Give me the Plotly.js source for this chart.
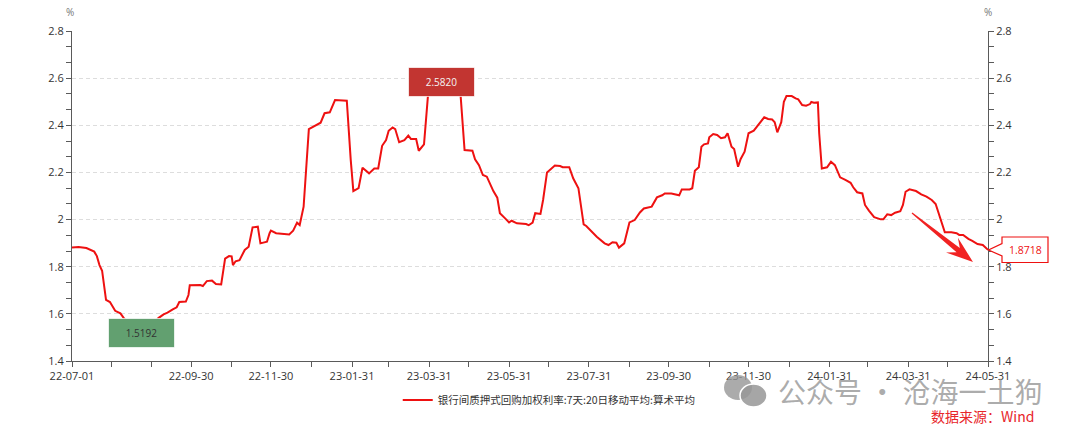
<!DOCTYPE html>
<html>
<head>
<meta charset="utf-8">
<script src="https://cdn.plot.ly/plotly-3.0.1.min.js"></script>
<style>html,body{margin:0;padding:0;background:#fff;}#chart{width:1080px;height:436px;}</style>
</head>
<body>
<div id="chart"></div>
<script>
// ---- data ----
const seriesName = '银行间质押式回购加权利率:7天:20日移动平均:算术平均';
const dates = [
'2022-07-01','2022-07-06','2022-07-12','2022-07-15','2022-07-18','2022-07-20','2022-07-22','2022-07-24','2022-07-27','2022-07-30',
'2022-08-03','2022-08-07','2022-08-10','2022-08-15','2022-08-19','2022-08-23','2022-08-27','2022-08-31','2022-09-03','2022-09-05',
'2022-09-09','2022-09-12','2022-09-16','2022-09-19','2022-09-21','2022-09-26','2022-09-28','2022-09-29','2022-10-07','2022-10-09',
'2022-10-12','2022-10-16','2022-10-19','2022-10-23','2022-10-26','2022-10-29','2022-10-31','2022-11-01','2022-11-03','2022-11-06',
'2022-11-10','2022-11-13','2022-11-16','2022-11-20','2022-11-22','2022-11-27','2022-11-29','2022-11-30','2022-12-04','2022-12-14',
'2022-12-17','2022-12-20','2022-12-22','2022-12-25','2022-12-29','2023-01-02','2023-01-07','2023-01-10','2023-01-14','2023-01-18',
'2023-01-27','2023-01-30','2023-02-01','2023-02-05','2023-02-08','2023-02-13','2023-02-17','2023-02-20','2023-02-23','2023-02-26',
'2023-02-28','2023-03-03','2023-03-05','2023-03-08','2023-03-12','2023-03-15','2023-03-17','2023-03-21','2023-03-23','2023-03-27',
'2023-03-30','2023-04-03','2023-04-09','2023-04-15','2023-04-20','2023-04-24','2023-04-27','2023-05-03','2023-05-05','2023-05-08',
'2023-05-11','2023-05-14','2023-05-19','2023-05-22','2023-05-24','2023-05-28','2023-05-31','2023-06-02','2023-06-06','2023-06-13',
'2023-06-15','2023-06-18','2023-06-20','2023-06-24','2023-06-26','2023-06-29','2023-07-02','2023-07-05','2023-07-09','2023-07-11',
'2023-07-16','2023-07-19','2023-07-23','2023-07-27','2023-07-29','2023-08-04','2023-08-06','2023-08-12','2023-08-15','2023-08-18',
'2023-08-21','2023-08-23','2023-08-27','2023-08-31','2023-09-04','2023-09-08','2023-09-11','2023-09-17','2023-09-21','2023-09-25',
'2023-09-27','2023-10-02','2023-10-08','2023-10-10','2023-10-16','2023-10-18','2023-10-20','2023-10-23','2023-10-25','2023-10-27',
'2023-10-30','2023-10-31','2023-11-03','2023-11-06','2023-11-09','2023-11-12','2023-11-14','2023-11-17','2023-11-19','2023-11-22',
'2023-11-24','2023-11-27','2023-11-30','2023-12-04','2023-12-08','2023-12-12','2023-12-15','2023-12-18','2023-12-20','2023-12-22',
'2023-12-25','2023-12-27','2023-12-29','2024-01-02','2024-01-05','2024-01-07','2024-01-10','2024-01-13','2024-01-16','2024-01-17',
'2024-01-19','2024-01-22','2024-01-23','2024-01-25','2024-01-29','2024-02-01','2024-02-04','2024-02-08','2024-02-12','2024-02-16',
'2024-02-18','2024-02-21','2024-02-25','2024-02-27','2024-03-01','2024-03-05','2024-03-10','2024-03-12','2024-03-15','2024-03-18',
'2024-03-21','2024-03-25','2024-03-27','2024-03-29','2024-04-01','2024-04-06','2024-04-10','2024-04-14','2024-04-18','2024-04-21',
'2024-04-28','2024-05-03','2024-05-07','2024-05-09','2024-05-12','2024-05-16','2024-05-19','2024-05-23','2024-05-27','2024-05-31'
];
const rates = [
1.881,1.884,1.879,1.871,1.864,1.845,1.807,1.783,1.659,1.650,
1.613,1.602,1.579,1.552,1.532,1.5192,1.528,1.548,1.568,1.582,
1.598,1.605,1.619,1.628,1.650,1.652,1.680,1.721,1.722,1.718,
1.739,1.741,1.727,1.725,1.834,1.845,1.844,1.807,1.823,1.828,
1.871,1.885,1.967,1.970,1.899,1.906,1.942,1.953,1.942,1.937,
1.953,1.987,1.977,2.055,2.384,2.397,2.411,2.451,2.455,2.507,
2.504,2.253,2.121,2.133,2.220,2.196,2.217,2.217,2.313,2.337,
2.377,2.391,2.384,2.328,2.337,2.356,2.342,2.342,2.292,2.319,
2.524,2.570,2.582,2.575,2.555,2.524,2.295,2.292,2.256,2.231,
2.189,2.182,2.121,2.093,2.027,2.005,1.988,1.995,1.984,1.981,
1.976,1.987,2.027,2.024,2.083,2.200,2.213,2.229,2.227,2.222,
2.222,2.175,2.133,1.980,1.973,1.935,1.927,1.899,1.892,1.904,
1.902,1.881,1.899,1.988,1.998,2.030,2.047,2.055,2.094,2.103,
2.111,2.111,2.103,2.128,2.128,2.133,2.207,2.222,2.309,2.319,
2.323,2.349,2.363,2.359,2.345,2.349,2.366,2.309,2.299,2.224,
2.257,2.288,2.366,2.377,2.408,2.434,2.427,2.425,2.413,2.370,
2.413,2.500,2.524,2.524,2.514,2.510,2.486,2.483,2.490,2.499,
2.496,2.497,2.366,2.217,2.222,2.245,2.231,2.179,2.168,2.156,
2.137,2.116,2.111,2.062,2.038,2.010,2.001,2.001,2.022,2.019,
2.029,2.036,2.062,2.118,2.128,2.121,2.107,2.097,2.083,2.066,
1.946,1.946,1.942,1.935,1.935,1.918,1.910,1.896,1.892,1.8718
];
const xTickVals = ['2022-07-01','2022-07-31','2022-08-31','2022-09-30','2022-10-31','2022-11-30','2022-12-31','2023-01-31','2023-02-28','2023-03-31','2023-04-30','2023-05-31','2023-06-30','2023-07-31','2023-08-31','2023-09-30','2023-10-31','2023-11-30','2023-12-31','2024-01-31','2024-02-29','2024-03-31','2024-04-30','2024-05-31'];
const xTickText = ['22-07-01','','','22-09-30','','22-11-30','','23-01-31','','23-03-31','','23-05-31','','23-07-31','','23-09-30','','23-11-30','','24-01-31','','24-03-31','','24-05-31'];
const yRange = [1.4, 2.8];
const unitLabel = '%';
const watermark = '公众号 · 沧海一土狗';
const sourceText = '数据来源：Wind';

// ---- layout helpers (pixel -> paper) ----
const PL = 72, PR = 988, PT = 31, PB = 361;
const pxX = x => (x - PL) / (PR - PL);
const pxY = y => (PB - y) / (PB - PT);
const pathFrom = pts => 'M' + pts.map(p => pxX(p[0]).toFixed(5) + ',' + pxY(p[1]).toFixed(5)).join(' L') + ' Z';

let iMin = 0, iMax = 0;
rates.forEach((v, i) => { if (v < rates[iMin]) iMin = i; if (v > rates[iMax]) iMax = i; });
const iLast = rates.length - 1;

const baseFont = 'Open Sans, Noto Sans CJK SC, sans-serif';
const cjkFont = 'Noto Sans CJK SC, sans-serif';
const axisColor = '#5a5a5a';

// arrow shape
const tail = [912, 213], tip = [973, 262];
const dx = tip[0] - tail[0], dy = tip[1] - tail[1], len = Math.hypot(dx, dy);
const u = [dx / len, dy / len], n = [-dy / len, dx / len];
const P = (base, a, b) => [base[0] + a * u[0] + b * n[0], base[1] + a * u[1] + b * n[1]];
const arrowPts = [P(tail, 0, 0.6), P(tip, -19, 2.6), P(tip, -27, 9.5), tip, P(tip, -27, -9.5), P(tip, -19, -2.6), P(tail, 0, -0.6)];

// callout for last value
const calloutPts = [[1002, 237], [1048, 237], [1048, 262.5], [1002, 262.5], [1002, 256], [988.5, 250], [1002, 243.5]];

const trace = {
  type: 'scatter', mode: 'lines', x: dates, y: rates, name: seriesName,
  line: {color: '#ee1111', width: 2}, hoverinfo: 'skip'
};
const trace2 = {
  type: 'scatter', mode: 'lines', x: dates, y: rates, yaxis: 'y2', showlegend: false,
  line: {color: 'rgba(0,0,0,0)', width: 0}, hoverinfo: 'skip'
};

const yCommon = {
  range: yRange, tickmode: 'linear', tick0: 1.4, dtick: 0.2,
  ticks: 'outside', ticklen: 5, tickwidth: 1, tickcolor: axisColor,
  showline: true, linecolor: axisColor, linewidth: 1, zeroline: false,
  tickfont: {family: baseFont, size: 11, color: '#333'},
  minor: {tick0: 1.4, dtick: 0.2 / 3, ticks: 'outside', ticklen: 5, tickcolor: axisColor, tickwidth: 1, showgrid: false},
  fixedrange: true
};

const paperText = (x, y, text, font) => ({xref: 'paper', yref: 'paper', x: pxX(x), y: pxY(y), xanchor: 'center', yanchor: 'middle', text: text, showarrow: false, font: font});

const layout = {
  width: 1080, height: 436,
  margin: {l: PL, r: 1080 - PR, t: PT, b: 436 - PB},
  paper_bgcolor: '#ffffff', plot_bgcolor: '#ffffff',
  font: {family: baseFont, color: '#333'},
  xaxis: {
    type: 'date', range: ['2022-07-01', '2024-05-31'],
    tickmode: 'array', tickvals: xTickVals, ticktext: xTickText,
    ticks: 'outside', ticklen: 5, tickwidth: 1, tickcolor: axisColor,
    showline: true, linecolor: axisColor, linewidth: 1, showgrid: false, zeroline: false,
    tickfont: {family: baseFont, size: 11, color: '#333'}, fixedrange: true
  },
  yaxis: Object.assign({}, yCommon, {side: 'left', showgrid: true, gridcolor: '#dddddd', gridwidth: 1, griddash: '4px,3px'}),
  yaxis2: Object.assign({}, yCommon, {side: 'right', overlaying: 'y', showgrid: false}),
  showlegend: true,
  legend: {
    orientation: 'h', x: 0.521, xanchor: 'center', y: pxY(400), yanchor: 'middle',
    font: {family: cjkFont, size: 10.5, color: '#333'}, itemwidth: 30, bgcolor: 'rgba(0,0,0,0)'
  },
  shapes: [
    {type: 'path', xref: 'paper', yref: 'paper', path: pathFrom(arrowPts), fillcolor: 'rgba(240,22,22,0.95)', line: {width: 0}, layer: 'above'},
    {type: 'path', xref: 'paper', yref: 'paper', path: pathFrom(calloutPts), fillcolor: '#ffffff', line: {color: '#ee1111', width: 1.2}, layer: 'above'},
    {type: 'circle', xref: 'paper', yref: 'paper', x0: pxX(724), x1: pxX(752), y0: pxY(400), y1: pxY(375), fillcolor: 'rgba(150,150,150,0.8)', line: {width: 0}, layer: 'above'},
    {type: 'circle', xref: 'paper', yref: 'paper', x0: pxX(740), x1: pxX(767), y0: pxY(407), y1: pxY(384), fillcolor: 'rgba(150,150,150,0.85)', line: {color: '#ffffff', width: 1.5}, layer: 'above'}
  ],
  annotations: [
    paperText(70, 12, unitLabel, {family: baseFont, size: 10, color: '#777'}),
    paperText(988, 12, unitLabel, {family: baseFont, size: 10, color: '#777'}),
    {x: dates[iMin], y: rates[iMin], text: rates[iMin].toFixed(4), showarrow: false, bgcolor: '#62a070', bordercolor: 'rgba(255,255,255,0.7)', borderwidth: 1, borderpad: 2, width: 61, height: 24, font: {family: baseFont, size: 10, color: '#333'}},
    {x: dates[iMax], y: rates[iMax], text: rates[iMax].toFixed(4), showarrow: false, bgcolor: '#c23531', bordercolor: 'rgba(255,255,255,0.7)', borderwidth: 1, borderpad: 2, width: 61, height: 24, font: {family: baseFont, size: 10, color: '#f4f4f4'}},
    {x: dates[iLast], y: rates[iLast], xshift: 37, text: rates[iLast].toFixed(4), showarrow: false, font: {family: baseFont, size: 10.5, color: '#ee1111'}},
    paperText(910, 391, watermark, {family: cjkFont, size: 28, color: 'rgba(150,150,150,0.8)'}),
    paperText(982, 416, sourceText, {family: cjkFont, size: 14, color: '#e8262a'})
  ]
};

Plotly.newPlot('chart', [trace, trace2], layout, {displayModeBar: false, staticPlot: true});
</script>
</body>
</html>
